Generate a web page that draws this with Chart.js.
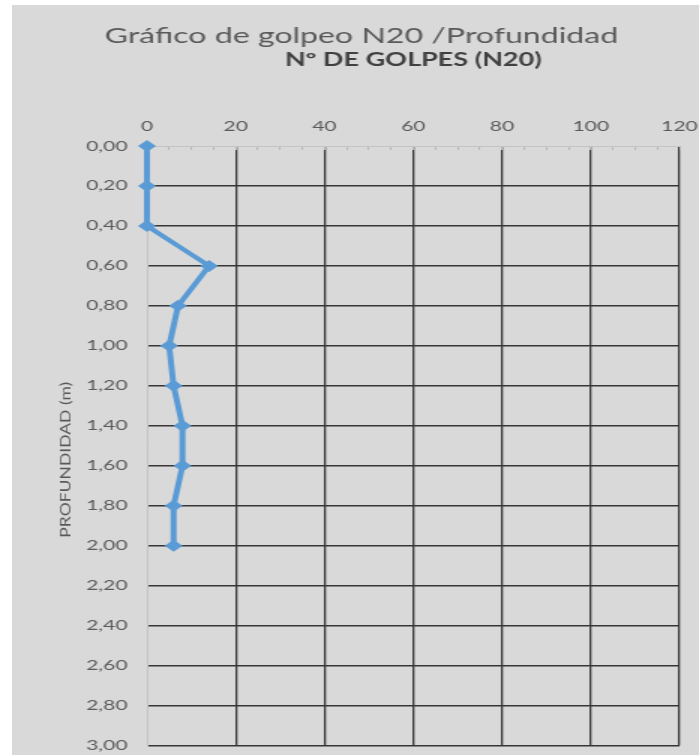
<!DOCTYPE html>
<html>
<head>
<meta charset="utf-8">
<title>Gráfico de golpeo N20 /Profundidad</title>
<script src="https://cdn.jsdelivr.net/npm/chart.js@4/dist/chart.umd.min.js"></script>
<style>
  html, body { margin: 0; padding: 0; background: #ffffff; }
  #wrap { position: absolute; left: 12px; top: 5px; width: 687px; height: 750px; }
  #chart { display: block; background: #d9d9d9; }
</style>
</head>
<body>
<div id="wrap">
  <!-- the drawing surface is narrower than its box, so everything is widened 1.5x -->
  <canvas id="chart" width="458" height="750" style="width:687px;height:750px;"></canvas>
</div>
<script>
// Penetration test: blow count N20 at each depth
const depths = [0.00, 0.20, 0.40, 0.60, 0.80, 1.00, 1.20, 1.40, 1.60, 1.80, 2.00];
const blows  = [0, 0, 0, 14, 7, 5, 6, 8, 8, 6, 6];

// Axis ticks
const blowTicks  = [0, 20, 40, 60, 80, 100, 120];
const minorTicks = [0, 5, 10, 15, 20, 25, 30, 35, 40, 45, 50, 55, 60, 65, 70, 75, 80, 85, 90, 95, 100, 105, 110, 115, 120];
const depthTicks = [0.00, 0.20, 0.40, 0.60, 0.80, 1.00, 1.20, 1.40, 1.60, 1.80, 2.00, 2.20, 2.40, 2.60, 2.80, 3.00];

const chartTitle = 'Gráfico de golpeo N20 /Profundidad';
const xTitle = 'Nº DE GOLPES (N20)';
const yTitle = 'PROFUNDIDAD (m)';

const points = depths.map((d, i) => ({ x: blows[i], y: d }));

const GRID = '#363636';
const AXIS = '#c4c4c4';
const TEXT = '#595959';

// Main title and the condensed vertical depth label
const captions = {
  id: 'captions',
  afterDraw(chart) {
    const ctx = chart.ctx;
    const area = chart.chartArea;
    ctx.save();
    ctx.fillStyle = TEXT;
    ctx.font = '21.4px Lato';
    ctx.textAlign = 'center';
    ctx.textBaseline = 'alphabetic';
    ctx.fillText(chartTitle, 233, 38);

    ctx.font = '10px Lato';
    ctx.textBaseline = 'middle';
    const w = ctx.measureText(yTitle).width;
    ctx.translate(35.5, (area.top + area.bottom) / 2 + 14);
    ctx.rotate(-Math.PI / 2);
    ctx.scale(156 / w, 1);
    ctx.fillText(yTitle, 0, 0);
    ctx.restore();
  }
};

new Chart(document.getElementById('chart'), {
  type: 'scatter',
  data: {
    datasets: [{
      data: points,
      showLine: true,
      borderColor: '#5b9bd5',
      backgroundColor: '#5b9bd5',
      borderWidth: 4,
      pointStyle: 'rectRot',
      pointRadius: 6,
      pointBorderWidth: 0,
      clip: false
    }]
  },
  options: {
    responsive: false,
    animation: false,
    layout: { padding: 0 },
    plugins: {
      legend: { display: false },
      tooltip: { enabled: false },
      title: { display: false }
    },
    scales: {
      x: {
        type: 'linear',
        position: 'top',
        weight: 1,
        min: 0,
        max: 120,
        afterBuildTicks: s => { s.ticks = blowTicks.map(v => ({ value: v })); },
        afterFit: s => { s.height = 141; s.paddingLeft = 0; s.paddingRight = 13; },
        ticks: { color: TEXT, font: { family: 'Lato', size: 14 }, padding: 11 },
        grid: {
          color: c => (c.tick && c.tick.value === 0 ? 'rgba(0,0,0,0)' : GRID),
          lineWidth: 1.3,
          drawTicks: false
        },
        border: { display: true, color: AXIS, width: 1 },
        title: {
          display: true,
          text: xTitle,
          color: '#404040',
          font: { family: 'Lato', size: 18, weight: 'bold' },
          padding: { top: 44, bottom: 0 }
        }
      },
      x2: {
        type: 'linear',
        position: 'top',
        weight: 0,
        min: 0,
        max: 120,
        afterBuildTicks: s => { s.ticks = minorTicks.map(v => ({ value: v })); },
        afterFit: s => { s.height = 0; s.paddingLeft = 0; s.paddingRight = 0; },
        ticks: { display: false },
        grid: {
          drawOnChartArea: false,
          drawTicks: true,
          tickLength: -4,
          tickColor: '#b8b8b8',
          lineWidth: 1
        },
        border: { display: false }
      },
      y: {
        type: 'linear',
        reverse: true,
        min: 0,
        max: 3,
        afterBuildTicks: s => { s.ticks = depthTicks.map(v => ({ value: v })); },
        afterFit: s => { s.width = 90; s.paddingTop = 0; s.paddingBottom = 9.5; },
        ticks: {
          color: TEXT,
          font: { family: 'Lato', size: 14 },
          padding: 13,
          callback: v => Number(v).toFixed(2).replace('.', ',')
        },
        grid: {
          color: c => (c.tick && c.tick.value === 0 ? 'rgba(0,0,0,0)' : GRID),
          lineWidth: 1.4,
          drawTicks: false
        },
        border: { display: true, color: AXIS, width: 1 }
      }
    }
  },
  plugins: [captions]
});
</script>
</body>
</html>
